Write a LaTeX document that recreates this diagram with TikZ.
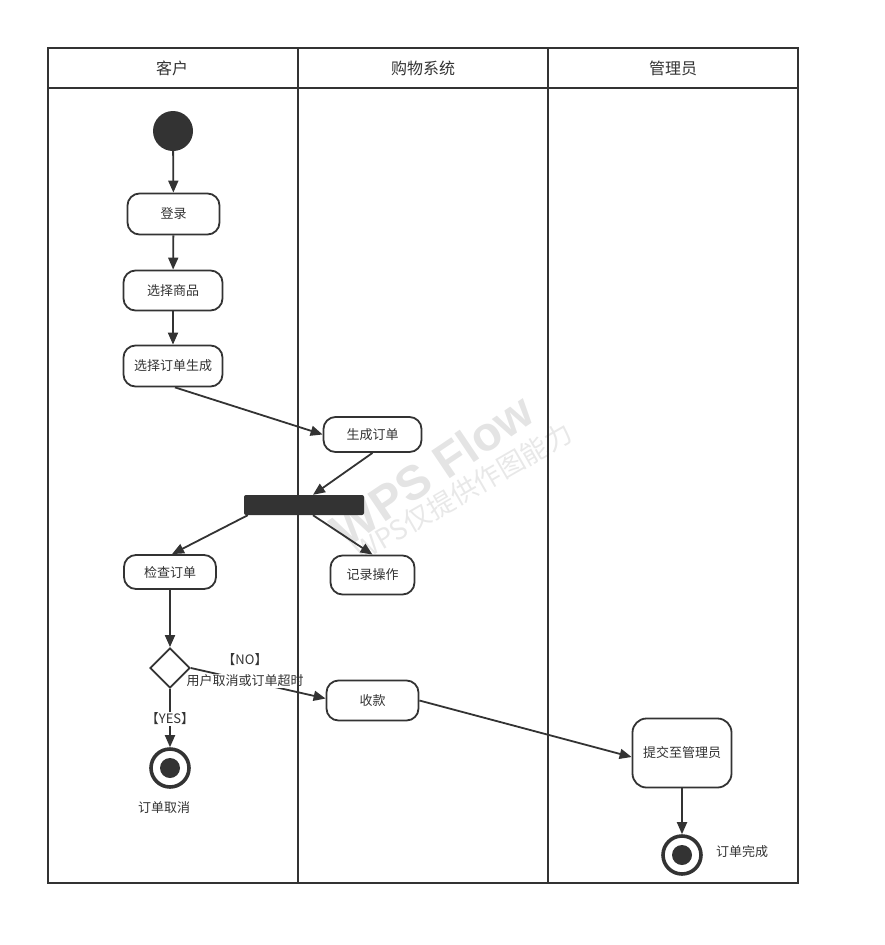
\documentclass[tikz,border=0pt]{standalone}
\usepackage{fontspec}
\setmainfont{Noto Sans CJK SC}
\newfontfamily\wmfont{Liberation Sans}
\usetikzlibrary{arrows.meta,shapes.geometric,calc}
\definecolor{ink}{HTML}{333333}
\definecolor{wmA}{HTML}{E4E4E4}
\definecolor{wmB}{HTML}{E8E8E8}
\begin{document}
\begin{tikzpicture}[x=1pt,y=-1pt,
  actbox/.style={draw=ink,line width=1.8pt,rounded corners=12pt,fill=white,inner sep=0pt,font=\fontsize{13}{15}\selectfont,text=ink},
  flow/.style={draw=ink,line width=1.8pt,-{Triangle[length=12pt,width=10pt]}},
  lane/.style={draw=ink,line width=1.8pt},
  lbl/.style={font=\fontsize{13}{15}\selectfont,text=ink,inner sep=1pt},
  hdr/.style={font=\fontsize{16}{18}\selectfont,text=ink},
  startc/.style={circle,fill=ink,minimum size=40pt,inner sep=0pt},
  endc/.style={circle,draw=ink,line width=3.6pt,fill=white,minimum size=38pt,inner sep=0pt},
  decide/.style={diamond,draw=ink,line width=1.8pt,fill=white,minimum width=40pt,minimum height=40pt,inner sep=0pt},
  forkbar/.style={rectangle,fill=ink,rounded corners=2pt,minimum width=120pt,minimum height=20pt,inner sep=0pt}
]
\useasboundingbox (0,0) rectangle (884,945);
% watermark
\node[rotate=34,text=wmA,font=\wmfont\bfseries\fontsize{48}{48}\selectfont] (wm1) at (432,470) {WPS Flow};
\node[rotate=30,text=wmB,font=\fontsize{27}{27}\selectfont] (wm2) at (463,492) {WPS仅提供作图能力};
% headers
\node[hdr] (h1) at (172,68) {客户};
\node[hdr] (h2) at (423,68) {购物系统};
\node[hdr] (h3) at (673,68) {管理员};
% nodes
\node[startc] (s) at (173,131) {};
\node[actbox,minimum width=92pt,minimum height=41pt] (login) at (173.5,214) {登录};
\node[actbox,minimum width=99pt,minimum height=40pt] (sel) at (173,290.5) {选择商品};
\node[actbox,minimum width=99pt,minimum height=41pt] (gen) at (173,366) {选择订单生成};
\node[actbox,minimum width=98pt,minimum height=35pt] (ord) at (372.5,434.5) {生成订单};
\node[forkbar] (bar) at (304,505) {};
\node[actbox,minimum width=92pt,minimum height=34pt] (chk) at (170,572) {检查订单};
\node[actbox,minimum width=84pt,minimum height=39pt] (rec) at (372.5,575) {记录操作};
\node[decide] (dia) at (170,668) {};
\node[actbox,minimum width=92pt,minimum height=40pt] (pay) at (372.5,700.5) {收款};
\node[actbox,rounded corners=14pt,minimum width=99pt,minimum height=69pt] (sub) at (682,753) {提交至管理员};
\node[endc] (end1) at (170,768) {};
\fill[ink] (end1.center) circle (10pt);
\node[endc] (end2) at (682,855) {};
\fill[ink] (end2.center) circle (10pt);
\node[lbl] (l1) at (164,808) {订单取消};
\node[lbl] (l2) at (742,852) {订单完成};
% connectors
\draw[flow] (s) -- (login);
\draw[flow] (login) -- (sel);
\draw[flow] (sel) -- (gen);
\draw[flow] ($(gen.south)+(2,0)$) coordinate (g0) -- (ord.west);
\draw[flow] (ord.south) -- ($(bar.north)+(9,0)$) coordinate (b0);
\draw[flow] ($(bar.south west)+(4,0)$) coordinate (b1) -- ($(chk.north)+(2,0)$) coordinate (c0);
\draw[flow] ($(bar.south)+(9,0)$) coordinate (b2) -- (rec.north);
\draw[flow] (chk.south) -- (dia.north);
\draw[flow] (dia.east) -- ($(pay.west)+(0,-2)$) coordinate (p0);
\node[lbl,fill=white] (no2) at (245,681) {用户取消或订单超时};
\node[lbl] (no1) at (245,660) {【NO】};
\draw[flow] (dia.south) -- (end1.north);
\node[lbl,fill=white] (yes) at (170,719) {【YES】};
\draw[flow] (pay.east) -- ($(sub.west)+(0,4)$) coordinate (s0);
\draw[flow] (sub.south) -- (end2.north);
% frame
\draw[lane] (48,48) rectangle (798,883);
\draw[lane] (48,88) -- (798,88);
\draw[lane] (298,48) -- (298,883);
\draw[lane] (548,48) -- (548,883);
\end{tikzpicture}
\end{document}
